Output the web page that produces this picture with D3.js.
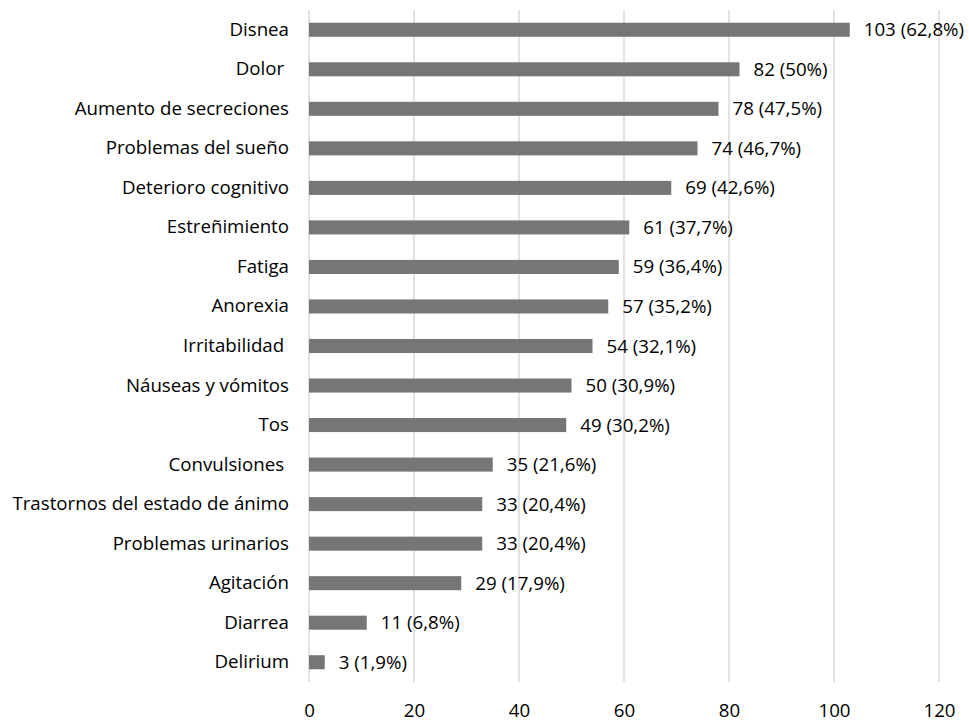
<!DOCTYPE html>
<html>
<head>
<meta charset="utf-8">
<script src="https://cdn.jsdelivr.net/npm/d3@7"></script>
<style>
  body { margin: 0; background: #fff; }
  text { font-family: "Open Sans", Lato, sans-serif; fill: #000; }
</style>
</head>
<body>
<script>
// data
var categories = ["Disnea", "Dolor ", "Aumento de secreciones", "Problemas del sueño", "Deterioro cognitivo",
  "Estreñimiento", "Fatiga", "Anorexia", "Irritabilidad ", "Náuseas y vómitos", "Tos", "Convulsiones ",
  "Trastornos del estado de ánimo", "Problemas urinarios", "Agitación", "Diarrea", "Delirium"];
var values = [103, 82, 78, 74, 69, 61, 59, 57, 54, 50, 49, 35, 33, 33, 29, 11, 3];
var labels = ["103 (62,8%)", "82 (50%)", "78 (47,5%)", "74 (46,7%)", "69 (42,6%)", "61 (37,7%)", "59 (36,4%)",
  "57 (35,2%)", "54 (32,1%)", "50 (30,9%)", "49 (30,2%)", "35 (21,6%)", "33 (20,4%)", "33 (20,4%)",
  "29 (17,9%)", "11 (6,8%)", "3 (1,9%)"];
var ticks = [0, 20, 40, 60, 80, 100, 120];

var width = 969;
var height = 722;
var fontSize = "18.7px";

const svg = d3.select("body")
  .append("svg")
  .attr("width", width)
  .attr("height", height);

var xscale = d3.scaleLinear()
  .domain([0, 120])
  .range([309, 939]);

var yscale = d3.scaleBand()
  .domain(categories)
  .range([10, 682])
  .paddingInner(0.645)
  .paddingOuter(0.3225);

// gridlines
svg.selectAll("line.grid")
  .data(ticks)
  .enter()
  .append("line")
  .attr("class", "grid")
  .attr("x1", d => xscale(d))
  .attr("x2", d => xscale(d))
  .attr("y1", 10)
  .attr("y2", 682)
  .style("stroke", "#d9d9d9")
  .style("stroke-width", 1.5);

// x axis labels
var xAxis = d3.axisBottom(xscale).tickValues(ticks).tickSize(0).tickPadding(0);
var gx = svg.append("g")
  .attr("transform", "translate(0,682)")
  .call(xAxis);
gx.select(".domain").remove();
gx.selectAll("text")
  .attr("y", 29)
  .attr("dy", "0.32em")
  .style("font-size", fontSize)
  .style("font-family", "'Open Sans', Lato, sans-serif")
  .style("fill", "#000");

// y axis labels
var yAxis = d3.axisLeft(yscale).tickSize(0).tickPadding(20);
var gy = svg.append("g")
  .attr("transform", "translate(309,0)")
  .call(yAxis);
gy.select(".domain").remove();
gy.selectAll("text")
  .style("font-size", fontSize)
  .style("font-family", "'Open Sans', Lato, sans-serif")
  .style("fill", "#000")
  .style("white-space", "pre");

// bars
svg.selectAll("rect.bar")
  .data(values)
  .enter()
  .append("rect")
  .attr("class", "bar")
  .attr("x", xscale(0))
  .attr("y", (d, i) => yscale(categories[i]))
  .attr("width", d => xscale(d) - xscale(0))
  .attr("height", yscale.bandwidth())
  .style("fill", "#767676");

// value labels
svg.selectAll("text.val")
  .data(values)
  .enter()
  .append("text")
  .attr("class", "val")
  .attr("x", d => xscale(d) + 14)
  .attr("y", (d, i) => yscale(categories[i]) + yscale.bandwidth() / 2)
  .attr("dy", "0.35em")
  .style("font-size", fontSize)
  .text((d, i) => labels[i]);
</script>
</body>
</html>
